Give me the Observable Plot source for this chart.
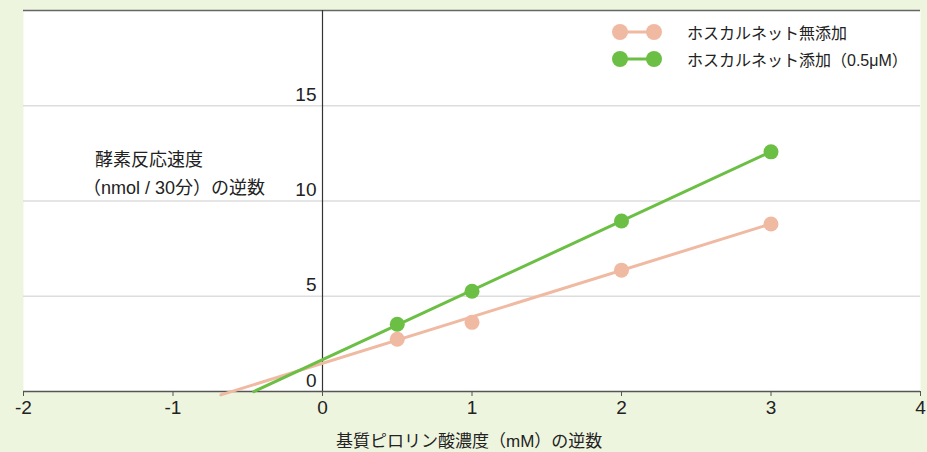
<!DOCTYPE html>
<html>
<head>
<meta charset="utf-8">
<script src="https://cdn.jsdelivr.net/npm/d3@7"></script>
<script src="https://cdn.jsdelivr.net/npm/@observablehq/plot@0.6"></script>
<style>
  body { margin: 0; background: #eef5df; }
  #wrap { position: relative; width: 927px; height: 452px; font-family: "Liberation Sans", "Noto Sans CJK JP", sans-serif; color: #222; }
  .note { position: absolute; white-space: nowrap; font-size: 17px; line-height: 28px; }
  .legend { position: absolute; left: 610px; top: 18px; font-size: 16px; }
  .legend .row { display: flex; align-items: center; height: 27px; }
  .legend svg { margin-right: 25px; }
</style>
</head>
<body>
<div id="wrap"></div>
<script>
// Reciprocal substrate concentration (1/mM) and reciprocal reaction rate
const invSubstrate = [0.5, 1, 2, 3];
const invRateControl = [2.74, 3.63, 6.37, 8.79];
const invRateFoscarnet = [3.53, 5.26, 8.95, 12.58];

const seriesNames = ["ホスカルネット無添加", "ホスカルネット添加（0.5μM）"];
const seriesColors = ["#f0b9a2", "#6cbf45"];

// Regression lines: slope, intercept and the x where each drawn line starts
const fitSlope = [2.44, 3.64];
const fitIntercept = [1.48, 1.67];
const fitStartX = [-0.68, -0.46];
const fitEndX = 3;

const xTicks = [-2, -1, 0, 1, 2, 3, 4];
const yTicks = [0, 5, 10, 15];
const yGrid = [5, 10, 15];
const yTop = 20;

const points = [
  ...invSubstrate.map((x, i) => ({x, y: invRateControl[i], s: 0})),
  ...invSubstrate.map((x, i) => ({x, y: invRateFoscarnet[i], s: 1}))
];
const fits = [0, 1].flatMap(s => [fitStartX[s], fitEndX].map(x => ({x, y: fitIntercept[s] + fitSlope[s] * x, s})));

const font = `"Liberation Sans", "Noto Sans CJK JP", sans-serif`;

const chart = Plot.plot({
  width: 927,
  height: 452,
  marginLeft: 23,
  marginRight: 7,
  marginTop: 10,
  marginBottom: 61,
  style: {background: "transparent", fontFamily: font, color: "#222"},
  x: {domain: [-2, 4]},
  y: {domain: [0, yTop], axis: null},
  marks: [
    Plot.frame({fill: "white", stroke: "none"}),
    Plot.ruleY(yGrid, {stroke: "#dddddd", strokeWidth: 1.5}),
    Plot.ruleY([yTop], {stroke: "#666", strokeWidth: 1.5}),
    Plot.ruleY([0], {stroke: "#555", strokeWidth: 1.5}),
    Plot.ruleX([0], {stroke: "#333", strokeWidth: 1.2}),
    Plot.axisX({ticks: xTicks, tickSize: 5, tickPadding: 4, fontSize: 19, label: null, stroke: "#555", tickFormat: d => String(d).replace("−", "-")}),
    Plot.text(yTicks, {x: 0, y: d => d, text: d => String(d), textAnchor: "end", lineAnchor: "bottom", dx: -6, dy: -5, fontSize: 19, fill: "#222"}),
    Plot.line(fits, {x: "x", y: "y", z: "s", stroke: d => seriesColors[d.s], strokeWidth: 3}),
    Plot.dot(points, {x: "x", y: "y", r: 7.5, fill: d => seriesColors[d.s], stroke: "none"})
  ]
});

const wrap = document.getElementById("wrap");
wrap.appendChild(chart);

// Legend
const legend = document.createElement("div");
legend.className = "legend";
seriesNames.forEach((name, i) => {
  const row = document.createElement("div");
  row.className = "row";
  row.innerHTML = `<svg width="52" height="20"><line x1="10" y1="10" x2="44" y2="10" stroke="${seriesColors[i]}" stroke-width="3"/><circle cx="10" cy="10" r="8" fill="${seriesColors[i]}"/><circle cx="44" cy="10" r="8" fill="${seriesColors[i]}"/></svg><span>${name}</span>`;
  legend.appendChild(row);
});
wrap.appendChild(legend);

// Axis titles
const yTitle = document.createElement("div");
yTitle.className = "note";
yTitle.style.left = "83px";
yTitle.style.top = "146px";
yTitle.style.fontSize = "18px";
yTitle.innerHTML = "<span style=\"padding-left:12px\">酵素反応速度</span><br>（nmol / 30分）の逆数";
wrap.appendChild(yTitle);

const xTitle = document.createElement("div");
xTitle.className = "note";
xTitle.style.left = "336px";
xTitle.style.top = "428px";
xTitle.textContent = "基質ピロリン酸濃度（mM）の逆数";
wrap.appendChild(xTitle);
</script>
</body>
</html>
